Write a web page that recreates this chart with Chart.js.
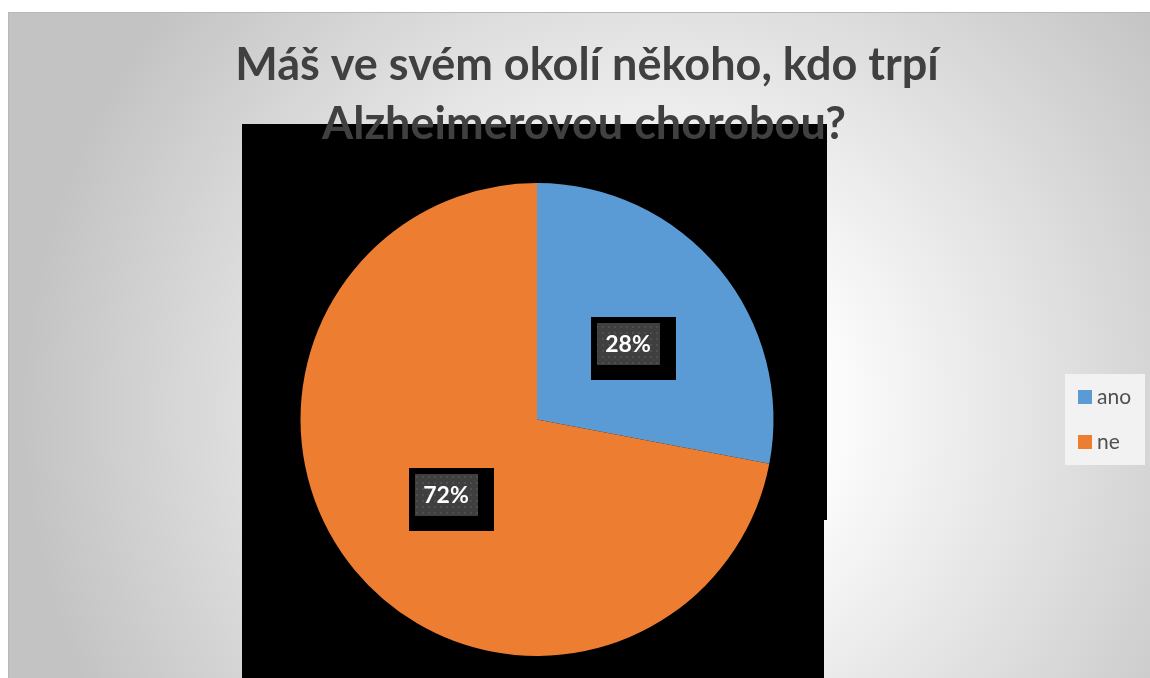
<!DOCTYPE html>
<html>
<head>
<meta charset="utf-8">
<title>Máš ve svém okolí někoho, kdo trpí Alzheimerovou chorobou?</title>
<script src="https://cdn.jsdelivr.net/npm/chart.js@4.4.1/dist/chart.umd.min.js"></script>
<style>
  html, body { margin: 0; padding: 0; background: #ffffff; }
  canvas { display: block; }
</style>
</head>
<body>
<canvas id="pieChart" width="1150" height="678"></canvas>
<script>
const categories = ["ano", "ne"];
const shares = [28, 72];
const sliceColors = ["#5B9BD5", "#ED7D31"];
const titleLines = ["Máš ve svém okolí někoho, kdo trpí", "Alzheimerovou chorobou?"];

const textColor = "#404040";

// dotted dark fill used behind the percentage labels
function makeLabelPattern(ctx) {
  const tile = document.createElement("canvas");
  tile.width = 6;
  tile.height = 6;
  const t = tile.getContext("2d");
  t.fillStyle = "#3f3f3f";
  t.fillRect(0, 0, 6, 6);
  t.fillStyle = "#4e4e4e";
  t.fillRect(2, 2, 2, 2);
  return ctx.createPattern(tile, "repeat");
}

const backgroundPlugin = {
  id: "panelBackground",
  beforeDraw(chart) {
    const ctx = chart.ctx;
    ctx.save();
    const grad = ctx.createRadialGradient(660, 410, 150, 660, 410, 640);
    grad.addColorStop(0, "#ffffff");
    grad.addColorStop(1, "#c3c3c3");
    ctx.fillStyle = grad;
    ctx.fillRect(8, 12, chart.width - 8, chart.height - 12);

    ctx.fillStyle = "#b8b8b8";
    ctx.fillRect(8, 12, chart.width - 8, 1);
    ctx.fillRect(8, 12, 1, chart.height - 12);

    // black block behind the plot
    ctx.fillStyle = "#000000";
    ctx.fillRect(242, 124, 585, 396);
    ctx.fillRect(242, 519, 582, chart.height - 519);
    ctx.restore();
  },
};

const sliceLabelPlugin = {
  id: "sliceLabels",
  afterDatasetsDraw(chart) {
    const ctx = chart.ctx;
    const meta = chart.getDatasetMeta(0);
    const pattern = makeLabelPattern(ctx);
    ctx.save();
    ctx.font = "bold 23px Lato";
    ctx.textAlign = "center";
    ctx.textBaseline = "middle";
    meta.data.forEach(function (arc, i) {
      const pos = arc.tooltipPosition();
      const x = Math.round(pos.x);
      const y = Math.round(pos.y);
      const text = chart.data.datasets[0].data[i] + "%";

      ctx.fillStyle = "#000000";
      ctx.fillRect(x - 37, y - 27, 85, 63);
      ctx.fillStyle = pattern;
      ctx.fillRect(x - 31, y - 21, 63, 42);

      ctx.fillStyle = "#ffffff";
      ctx.fillText(text, x, y + 1);
    });
    ctx.restore();
  },
};

const titleLegendPlugin = {
  id: "titleLegend",
  afterDraw(chart) {
    const ctx = chart.ctx;
    ctx.save();

    ctx.fillStyle = textColor;
    ctx.font = "bold 45px Lato";
    ctx.textAlign = "center";
    ctx.textBaseline = "alphabetic";
    ctx.fillText(titleLines[0], 587, 80);
    ctx.fillText(titleLines[1], 584, 139);

    // legend box
    ctx.fillStyle = "#f2f2f2";
    ctx.fillRect(1065, 374, 80, 91);

    ctx.font = "21px Lato";
    ctx.textAlign = "left";
    ctx.textBaseline = "middle";
    chart.data.labels.forEach(function (label, i) {
      const y = 397 + i * 45;
      ctx.fillStyle = chart.data.datasets[0].backgroundColor[i];
      ctx.fillRect(1078, y - 7, 14, 14);
      ctx.fillStyle = "#505050";
      ctx.fillText(label, 1097, y);
    });
    ctx.restore();
  },
};

function createChart() {
  const ctx = document.getElementById("pieChart").getContext("2d");
  new Chart(ctx, {
    type: "pie",
    data: {
      labels: categories,
      datasets: [
        {
          data: shares,
          backgroundColor: sliceColors,
          borderWidth: 0,
          hoverOffset: 0,
        },
      ],
    },
    options: {
      responsive: false,
      animation: false,
      layout: {
        padding: { left: 300.5, right: 376.5, top: 183, bottom: 22 },
      },
      plugins: {
        legend: { display: false },
        title: { display: false },
        tooltip: { enabled: false },
      },
    },
    plugins: [backgroundPlugin, sliceLabelPlugin, titleLegendPlugin],
  });
}

createChart();
</script>
</body>
</html>
